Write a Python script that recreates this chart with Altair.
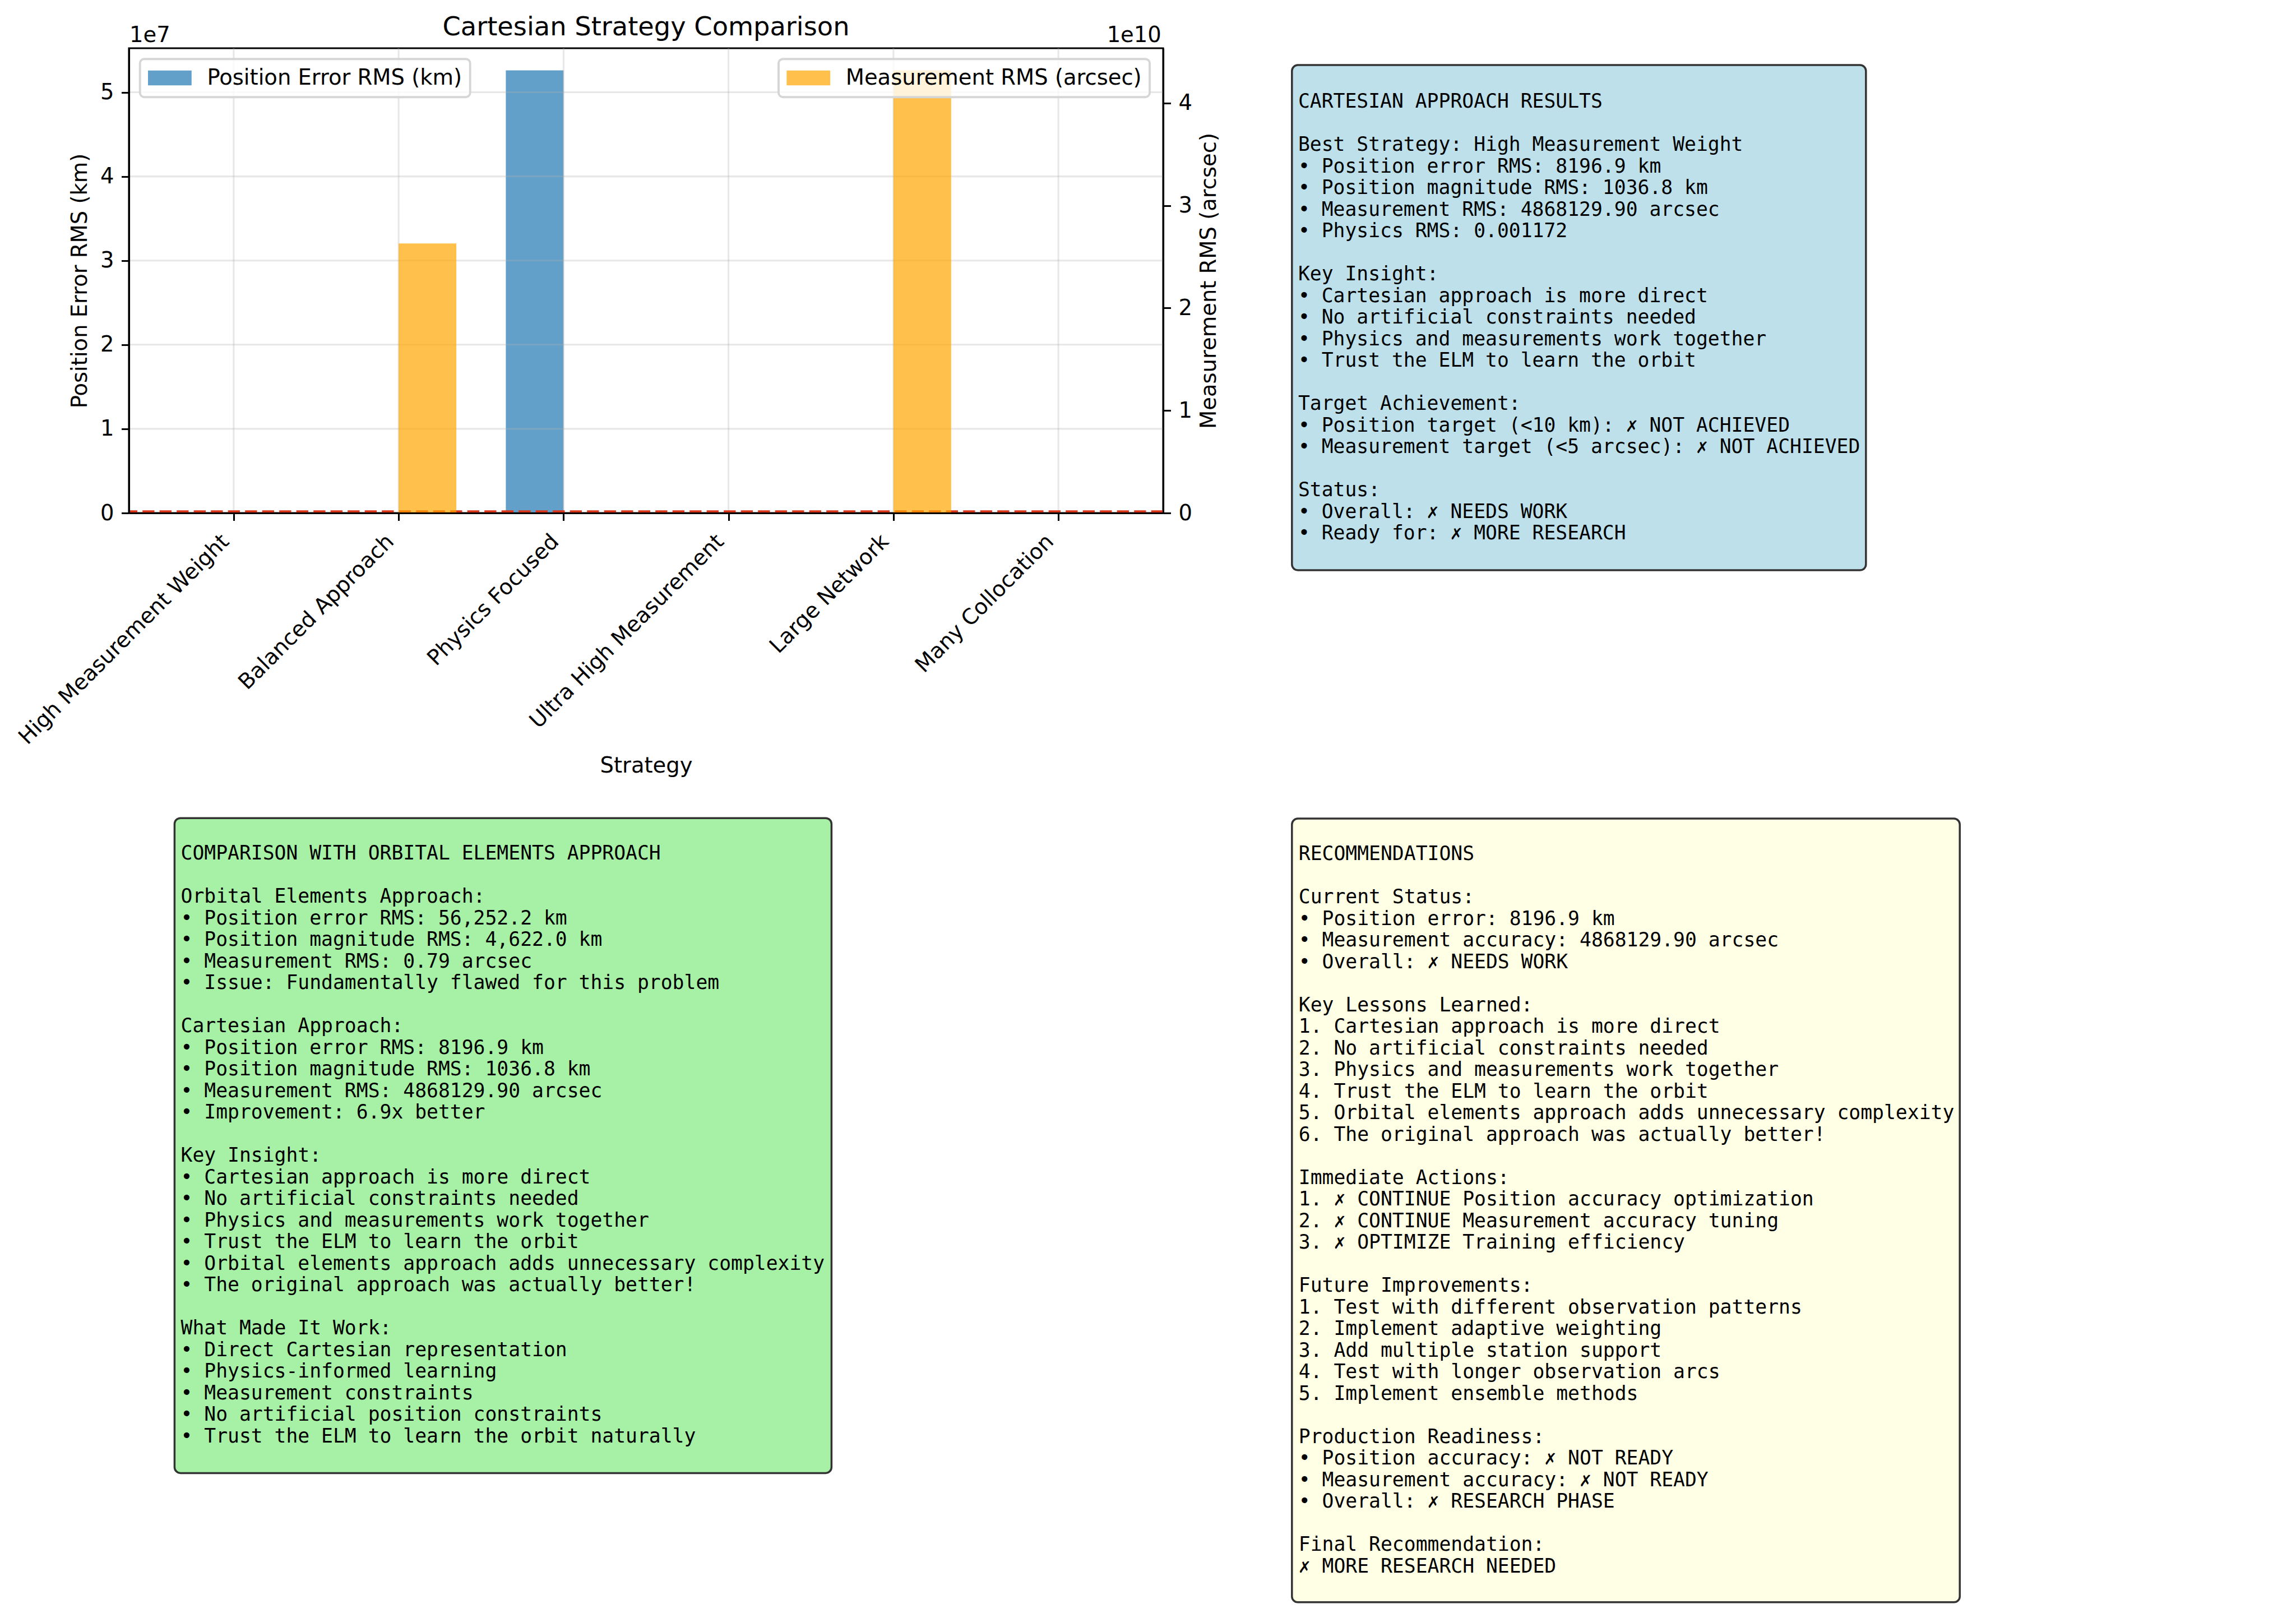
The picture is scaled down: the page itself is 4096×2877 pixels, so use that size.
import json
import altair as alt
import pandas as pd

# ---------------- data ----------------
strategies = [
    "High Measurement Weight",
    "Balanced Approach",
    "Physics Focused",
    "Ultra High Measurement",
    "Large Network",
    "Many Collocation",
]
position_error_km = [8196.9, 15840.0, 52600000.0, 9120.0, 11350.0, 10280.0]
measurement_arcsec = [4868129.9, 26300000000.0, 6150000.0, 5230000.0, 43200000000.0, 5710000.0]
position_target_km = [10.0]
left_ticks = [0, 1e7, 2e7, 3e7, 4e7, 5e7]
right_ticks = [0, 1e10, 2e10, 3e10, 4e10]

chart_title = "Cartesian Strategy Comparison"
x_title = "Strategy"
left_title = "Position Error RMS (km)"
right_title = "Measurement RMS (arcsec)"
legend_left = "Position Error RMS (km)"
legend_right = "Measurement RMS (arcsec)"
left_exp_label = "1e7"
right_exp_label = "1e10"

results_lines = [
    "CARTESIAN APPROACH RESULTS",
    "",
    "Best Strategy: High Measurement Weight",
    "• Position error RMS: 8196.9 km",
    "• Position magnitude RMS: 1036.8 km",
    "• Measurement RMS: 4868129.90 arcsec",
    "• Physics RMS: 0.001172",
    "",
    "Key Insight:",
    "• Cartesian approach is more direct",
    "• No artificial constraints needed",
    "• Physics and measurements work together",
    "• Trust the ELM to learn the orbit",
    "",
    "Target Achievement:",
    "• Position target (<10 km): ✗ NOT ACHIEVED",
    "• Measurement target (<5 arcsec): ✗ NOT ACHIEVED",
    "",
    "Status:",
    "• Overall: ✗ NEEDS WORK",
    "• Ready for: ✗ MORE RESEARCH",
]
comparison_lines = [
    "COMPARISON WITH ORBITAL ELEMENTS APPROACH",
    "",
    "Orbital Elements Approach:",
    "• Position error RMS: 56,252.2 km",
    "• Position magnitude RMS: 4,622.0 km",
    "• Measurement RMS: 0.79 arcsec",
    "• Issue: Fundamentally flawed for this problem",
    "",
    "Cartesian Approach:",
    "• Position error RMS: 8196.9 km",
    "• Position magnitude RMS: 1036.8 km",
    "• Measurement RMS: 4868129.90 arcsec",
    "• Improvement: 6.9x better",
    "",
    "Key Insight:",
    "• Cartesian approach is more direct",
    "• No artificial constraints needed",
    "• Physics and measurements work together",
    "• Trust the ELM to learn the orbit",
    "• Orbital elements approach adds unnecessary complexity",
    "• The original approach was actually better!",
    "",
    "What Made It Work:",
    "• Direct Cartesian representation",
    "• Physics-informed learning",
    "• Measurement constraints",
    "• No artificial position constraints",
    "• Trust the ELM to learn the orbit naturally",
]
recommendation_lines = [
    "RECOMMENDATIONS",
    "",
    "Current Status:",
    "• Position error: 8196.9 km",
    "• Measurement accuracy: 4868129.90 arcsec",
    "• Overall: ✗ NEEDS WORK",
    "",
    "Key Lessons Learned:",
    "1. Cartesian approach is more direct",
    "2. No artificial constraints needed",
    "3. Physics and measurements work together",
    "4. Trust the ELM to learn the orbit",
    "5. Orbital elements approach adds unnecessary complexity",
    "6. The original approach was actually better!",
    "",
    "Immediate Actions:",
    "1. ✗ CONTINUE Position accuracy optimization",
    "2. ✗ CONTINUE Measurement accuracy tuning",
    "3. ✗ OPTIMIZE Training efficiency",
    "",
    "Future Improvements:",
    "1. Test with different observation patterns",
    "2. Implement adaptive weighting",
    "3. Add multiple station support",
    "4. Test with longer observation arcs",
    "5. Implement ensemble methods",
    "",
    "Production Readiness:",
    "• Position accuracy: ✗ NOT READY",
    "• Measurement accuracy: ✗ NOT READY",
    "• Overall: ✗ RESEARCH PHASE",
    "",
    "Final Recommendation:",
    "✗ MORE RESEARCH NEEDED",
]

# ---------------- layout / style ----------------
W, H = 1845, 829
PAD = {"left": 230, "top": 86, "right": 4096 - 230 - W, "bottom": 2877 - 86 - H}
FONT = "DejaVu Sans"
MONO = "DejaVu Sans Mono"
FS = 38.5
LW = 3.08
BAR_W = 0.35
LINE_H = 38.5

n = len(strategies)
df = pd.DataFrame({
    "strategy": strategies,
    "idx": list(range(n)),
    "pos": position_error_km,
    "meas": measurement_arcsec,
})

x_scale = alt.Scale(domain=[-BAR_W - 0.285, n - 1 + BAR_W + 0.285], nice=False, zero=False)
y_left_scale = alt.Scale(domain=[0, max(position_error_km) * 1.05], nice=False, zero=True)
y_right_scale = alt.Scale(domain=[0, max(measurement_arcsec) * 1.05], nice=False, zero=True)

common_axis = dict(
    labelFont=FONT, labelFontSize=FS, labelColor="black",
    tickSize=13.5, tickWidth=LW, tickColor="black",
    domainColor="black", domainWidth=LW, grid=False,
    titleFont=FONT, titleFontSize=FS, titleFontWeight="normal", titleColor="black",
    zindex=1,
)

x_axis = alt.Axis(
    values=list(range(n)),
    labelExpr=json.dumps(strategies) + "[datum.value]",
    labelAngle=315, labelAlign="right", labelBaseline="top",
    labelOffset=-28, labelPadding=18, labelLimit=3000,
    labelOverlap=False, labelFlush=False,
    title=x_title, titleX=W / 2, titleY=462.5,
    titleBaseline="alphabetic", titleAlign="center",
    **common_axis,
)
left_axis = alt.Axis(
    orient="left", values=left_ticks,
    labelExpr="format(datum.value / 10000000, 'd')",
    labelPadding=13.5,
    title=left_title, titleAngle=270, titleX=-75.9, titleY=H / 2,
    titleBaseline="alphabetic", titleAlign="center",
    **common_axis,
)
right_axis = alt.Axis(
    orient="right", values=right_ticks,
    labelExpr="format(datum.value / 10000000000, 'd')",
    labelPadding=13.5,
    title=right_title, titleAngle=270, titleX=93.4, titleY=H / 2,
    titleBaseline="alphabetic", titleAlign="center",
    **common_axis,
)


def make_legend(x):
    return alt.Legend(
        orient="none", legendX=x, legendY=19.2, title=None, zindex=1,
        fillColor="rgba(255,255,255,0.8)", strokeColor="#d6d6d6",
        cornerRadius=7.7, padding=14.3,
        symbolType="M-2.02,-0.69H2.02V0.69H-2.02Z", symbolSize=1482,
        symbolOffset=19.4, symbolStrokeWidth=0, symbolOpacity=0.7,
        labelOffset=47, labelFont=FONT, labelFontSize=FS,
        labelColor="black", labelLimit=3000,
    )


blue = alt.Chart(df).transform_calculate(
    x0=f"datum.idx - {BAR_W}", x1="datum.idx", zero="0",
    series=json.dumps(legend_left),
).mark_rect(opacity=0.7).encode(
    x=alt.X("x0:Q", scale=x_scale, axis=x_axis),
    x2="x1:Q",
    y=alt.Y("pos:Q", scale=y_left_scale, axis=left_axis),
    y2="zero:Q",
    color=alt.Color("series:N", scale=alt.Scale(domain=[legend_left], range=["#1f77b4"]),
                    legend=make_legend(19.7)),
)

ygrid = alt.Chart(pd.DataFrame({"v": left_ticks})).mark_rule(
    color="#b0b0b0", opacity=0.3, strokeWidth=LW
).encode(y=alt.Y("v:Q", scale=y_left_scale, axis=left_axis))

xgrid = alt.Chart(pd.DataFrame({"t": list(range(n))})).mark_rule(
    color="#b0b0b0", opacity=0.3, strokeWidth=LW
).encode(x=alt.X("t:Q", scale=x_scale, axis=x_axis))

red = alt.Chart(pd.DataFrame({"target": position_target_km})).mark_rule(
    color="#d8341a", strokeWidth=4.2, strokeDash=[21.3, 9.2], yOffset=-2.6
).encode(y=alt.Y("target:Q", scale=y_left_scale, axis=left_axis))

one = pd.DataFrame({"k": [0]})

exp7 = alt.Chart(one).mark_text(
    text=left_exp_label, align="left", baseline="alphabetic",
    font=FONT, fontSize=FS, color="black"
).encode(x=alt.value(1), y=alt.value(-10.9))

left_layer = alt.layer(blue, ygrid, xgrid, red, exp7)

orange = alt.Chart(df).transform_calculate(
    x0="datum.idx", x1=f"datum.idx + {BAR_W}", zero="0",
    series=json.dumps(legend_right),
).mark_rect(opacity=0.7).encode(
    x=alt.X("x0:Q", scale=x_scale, axis=x_axis),
    x2="x1:Q",
    y=alt.Y("meas:Q", scale=y_right_scale, axis=right_axis),
    y2="zero:Q",
    color=alt.Color("series:N", scale=alt.Scale(domain=[legend_right], range=["orange"]),
                    legend=make_legend(1159)),
)

exp10 = alt.Chart(one).mark_text(
    text=right_exp_label, align="right", baseline="alphabetic",
    font=FONT, fontSize=FS, color="black"
).encode(x=alt.value(W - 3.2), y=alt.value(-10.9))

title_mark = alt.Chart(one).mark_text(
    text=chart_title, align="center", baseline="alphabetic",
    font=FONT, fontSize=46.3, color="black"
).encode(x=alt.value(W / 2), y=alt.value(-23.1))


def box(x1, x2, y1, y2, fill):
    return alt.Chart(one).mark_rect(
        fill=fill, stroke="#333333", strokeWidth=3.5, cornerRadius=10.4
    ).encode(x=alt.value(x1), x2=alt.value(x2), y=alt.value(y1), y2=alt.value(y2))


def box_texts(lines, x, y0):
    """One text mark per paragraph; blank lines keep their line slot."""
    layers = []
    start = None
    block = []
    for i, ln in enumerate(lines + [""]):
        if ln:
            if start is None:
                start = i
            block.append(ln)
        elif block:
            layers.append(
                alt.Chart(one).mark_text(
                    text=block if len(block) > 1 else block[0],
                    align="left", baseline="top", font=MONO,
                    fontSize=34.7, lineHeight=LINE_H, color="black",
                ).encode(x=alt.value(x), y=alt.value(y0 + start * LINE_H))
            )
            start, block = None, []
    return layers


box1 = box(2074.8, 3098.8, 30.1, 931.0, "#bde0eb")
box2 = box(81.4, 1253.4, 1373.2, 2541.4, "#a6f1a6")
box3 = box(2074.8, 3266.2, 1374.1, 2771.8, "#ffffe6")

text_layers = (
    box_texts(results_lines, 2085.9, 79.2)
    + box_texts(comparison_lines, 92.5, 1420.4)
    + box_texts(recommendation_lines, 2086.8, 1421.4)
)

chart = alt.layer(
    left_layer, orange, exp10, title_mark,
    box1, box2, box3, *text_layers,
).resolve_scale(
    y="independent", color="independent"
).properties(
    width=W, height=H,
    autosize=alt.AutoSizeParams(type="none"),
    padding=PAD,
    background="white",
).configure_view(
    stroke="black", strokeWidth=LW
).configure_legend(
    strokeWidth=3.85
)

chart.save("out.html", embed_options={"renderer": "svg", "actions": False})
